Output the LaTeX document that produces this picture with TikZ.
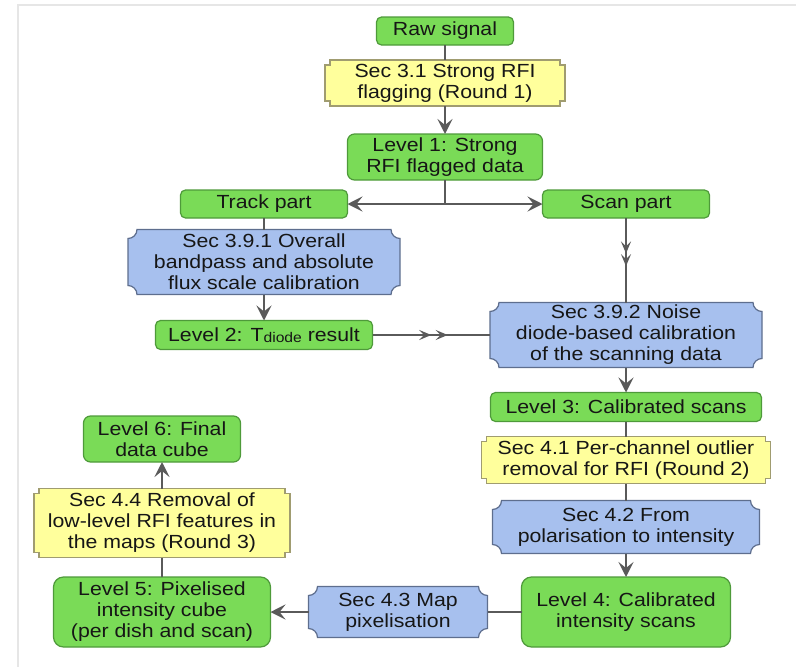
\documentclass[tikz,border=0pt]{standalone}
\usepackage{fontspec}
\setmainfont{Liberation Sans}[FakeStretch=1.12]
\usetikzlibrary{arrows.meta,backgrounds,decorations.markings,calc}

\definecolor{boxgreen}{HTML}{7ADB57}
\definecolor{greenline}{HTML}{4E9A3A}
\definecolor{boxyellow}{HTML}{FFFF9C}
\definecolor{yellowline}{HTML}{A09C70}
\definecolor{boxblue}{HTML}{A7C0EE}
\definecolor{blueline}{HTML}{5E6E8E}
\definecolor{flowgray}{HTML}{5A5A5A}
\definecolor{framegray}{HTML}{E6E6E6}
\definecolor{textgray}{HTML}{161616}

\begin{document}
\begin{tikzpicture}[x=1pt,y=1pt,
    font=\fontsize{19}{21}\selectfont,
    wh/.style 2 args={minimum width=#1pt, minimum height=#2pt},
    base/.style={inner sep=0pt, outer sep=0pt, align=center, text=textgray},
    level/.style={base, draw=greenline, fill=boxgreen, line width=1.2pt, rounded corners=5pt},
    flagged/.style={fill=boxyellow, draw=yellowline, line width=1.2pt},
    calib/.style={fill=boxblue, draw=blueline, line width=1.2pt},
    flow/.style={draw=flowgray, line width=2.6pt},
    arr/.style={flow, -{Stealth[length=15pt,width=15pt,inset=6pt]}},
    midtwo/.style 2 args={flow, postaction={decorate}, decoration={markings,
        mark=at position #1 with {\arrow[flowgray]{Stealth[length=12pt,width=10pt,inset=5pt]}},
        mark=at position #2 with {\arrow[flowgray]{Stealth[length=12pt,width=10pt,inset=5pt]}}}}
  ]
  \useasboundingbox (0,0) rectangle (796,-667);
  \draw[framegray, line width=2pt] (18,-667) -- (18,-5) -- (796,-5);

  % top: raw signal and strong RFI
  \node[level, wh={137}{28}] (raw) at (445,-31) {Raw signal};
  \node[base, wh={240}{46}] (sec31) at (445,-83) {Sec 3.1 Strong RFI\\flagging (Round 1)};
  \node[level, wh={195}{46}, rounded corners=7pt] (lev1) at (445,-157) {Level 1: Strong\\RFI flagged data};

  % track part (left)
  \node[level, wh={167}{28}] (track) at (264,-204) {Track part};
  \node[base, wh={272}{65}] (sec391) at (264,-262) {Sec 3.9.1 Overall\\bandpass and absolute\\flux scale calibration};
  \node[level, wh={217}{29}] (lev2) at (264,-335) {Level 2: T\raisebox{-1.5pt}{\fontsize{14}{14}\selectfont diode} result};

  % scan part (right)
  \node[level, wh={167}{28}] (scan) at (626,-204) {Scan part};
  \node[base, wh={272}{65}] (sec392) at (626,-335) {Sec 3.9.2 Noise\\diode-based calibration\\of the scanning data};
  \node[level, wh={271}{29}] (lev3) at (626,-407) {Level 3: Calibrated scans};
  \node[base, wh={289}{47}] (sec41) at (626,-460) {Sec 4.1 Per-channel outlier\\removal for RFI (Round 2)};
  \node[base, wh={267}{53}] (sec42) at (626,-527) {Sec 4.2 From\\polarisation to intensity};
  \node[level, wh={209}{70}, rounded corners=10pt] (lev4) at (626,-612) {Level 4: Calibrated\\intensity scans};

  % maps (bottom left)
  \node[base, wh={179}{51}] (sec43) at (398,-612) {Sec 4.3 Map\\pixelisation};
  \node[level, wh={217}{70}, rounded corners=10pt] (lev5) at (162,-612) {Level 5: Pixelised\\intensity cube\\(per dish and scan)};
  \node[base, wh={256}{69}] (sec44) at (162,-523) {Sec 4.4 Removal of\\low-level RFI features in\\the maps (Round 3)};
  \node[level, wh={157}{46}, rounded corners=7pt] (lev6) at (162,-439) {Level 6: Final\\data cube};

  % box outlines behind the text
  \begin{scope}[on background layer]
    \foreach \n in {sec31,sec41,sec44}
      \draw[flagged] ($(\n.north west)+(5,0)$) -- ($(\n.north east)+(-5,0)$) -- ++(0,-5) -- ++(5,0)
        -- ($(\n.south east)+(0,5)$) -- ++(-5,0) -- ++(0,-5) -- ($(\n.south west)+(5,0)$)
        -- ++(0,5) -- ++(-5,0) -- ($(\n.north west)+(0,-5)$) -- ++(5,0) -- cycle;
    \foreach \n in {sec391,sec392,sec42,sec43}
      \draw[calib] ($(\n.north west)+(9,0)$) -- ($(\n.north east)+(-9,0)$)
        arc[start angle=180, end angle=270, radius=9] -- ($(\n.south east)+(0,9)$)
        arc[start angle=90, end angle=180, radius=9] -- ($(\n.south west)+(9,0)$)
        arc[start angle=0, end angle=90, radius=9] -- ($(\n.north west)+(0,-9)$)
        arc[start angle=270, end angle=360, radius=9] -- cycle;
  \end{scope}

  % connectors
  \coordinate (split) at (lev1.south |- track);
  \draw[flow] (raw) -- (sec31);
  \draw[arr] (sec31) -- (lev1);
  \draw[flow] (lev1) -- (split);
  \draw[arr] (split) -- (track);
  \draw[arr] (split) -- (scan);
  \draw[flow] (track) -- (sec391);
  \draw[arr] (sec391) -- (lev2);
  \draw[midtwo={0.42}{0.57}] (scan) -- (sec392);
  \draw[midtwo={0.5}{0.64}] (lev2) -- (sec392);
  \draw[arr] (sec392) -- (lev3);
  \draw[flow] (lev3) -- (sec41);
  \draw[flow] (sec41) -- (sec42);
  \draw[arr] (sec42) -- (lev4);
  \draw[flow] (lev4) -- (sec43);
  \draw[arr] (sec43) -- (lev5);
  \draw[flow] (lev5) -- (sec44);
  \draw[arr] (sec44) -- (lev6);
\end{tikzpicture}
\end{document}
